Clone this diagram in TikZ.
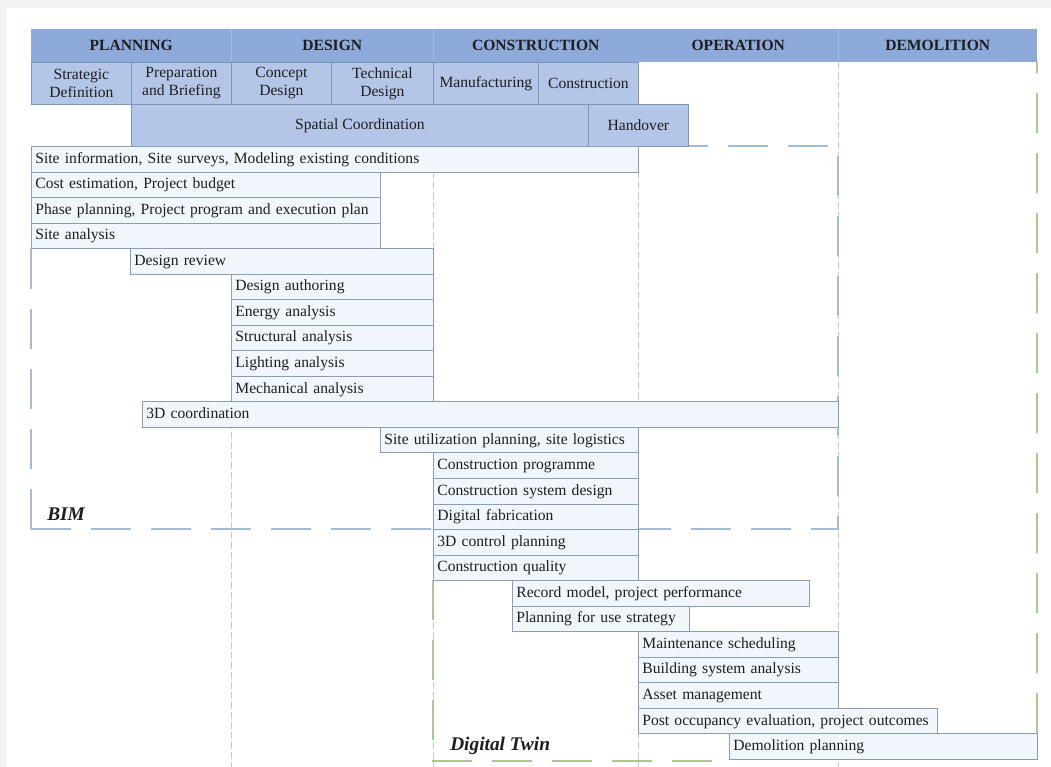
\documentclass[tikz,border=0pt]{standalone}
\usepackage{fontspec}
\setmainfont{Liberation Serif}
\usetikzlibrary{positioning}

\definecolor{pagegray}{RGB}{243,243,243}
\definecolor{headfill}{RGB}{142,170,219}
\definecolor{headsepc}{RGB}{165,187,226}
\definecolor{stagefill}{RGB}{180,198,231}
\definecolor{stageline}{RGB}{125,148,184}
\definecolor{taskfill}{RGB}{241,246,252}
\definecolor{taskline}{RGB}{138,158,184}
\definecolor{gridgray}{RGB}{200,200,200}
\definecolor{bimblue}{RGB}{166,188,210}
\definecolor{twingreen}{RGB}{168,201,146}
\definecolor{inkc}{RGB}{30,30,30}

\newcommand{\chartfont}{\fontsize{11.7}{13.5}\selectfont}
% one bar of the chart: name, left x, right x, row, text
\newcommand{\taskbar}[5]{%
  \pgfmathsetlengthmacro{\barwd}{(#3-#2)*0.75pt-6pt}%
  \node[taskbox, text width=\barwd] (#1) at (#2,{146+#4*25.54}) {#5};}

\begin{document}
\begin{tikzpicture}[x=0.75pt,y=-0.75pt,
  head/.style={fill=headfill, anchor=north west, minimum height=24.75pt, inner sep=0pt, text=inkc, font=\chartfont\bfseries},
  stagecell/.style={draw=stageline, line width=0.6pt, fill=stagefill, anchor=north west, minimum height=31.5pt, inner sep=0pt, align=center, text=inkc, font=\chartfont},
  taskbox/.style={draw=taskline, line width=0.6pt, fill=taskfill, anchor=north west, align=left, inner xsep=3pt, inner ysep=0pt, minimum height=19.155pt, text height=8.6pt, text depth=2.6pt, text=inkc, font=\chartfont},
  headsep/.style={draw=headsepc, line width=0.6pt},
  phaseline/.style={draw=gridgray, line width=0.6pt, dash pattern=on 5pt off 2.5pt},
  bimzone/.style={draw=bimblue, line width=1.3pt, dash pattern=on 30pt off 15pt},
  twinzone/.style={draw=twingreen, line width=1.3pt, dash pattern=on 30pt off 15pt},
  zonelabel/.style={anchor=base west, inner sep=0pt, text=inkc, font=\fontsize{14.5}{17}\selectfont\bfseries\itshape}]
  \useasboundingbox (0,0) rectangle (1051,767);
  \fill[pagegray] (0,0) rectangle (1051,767);
  \fill[white] (7,8) rectangle (1051,767);

  % phase boundaries
  \draw[phaseline] (231,62) -- (231,767);
  \draw[phaseline] (433,62) -- (433,767);
  \draw[phaseline] (638,62) -- (638,767);
  \draw[phaseline] (838,62) -- (838,767);

  % BIM and Digital Twin zones
  \draw[bimzone] (31,529) -- (31,248);
  \draw[bimzone] (31,529) -- (838,529) -- (838,146) -- (688,146);
  \draw[twinzone] (433,580) -- (433,761) -- (729,761);
  \draw[twinzone] (1037,733) -- (1037,62);

  % life cycle stages
  \node[head, minimum width=150pt] (plan) at (31,29) {PLANNING};
  \node[head, minimum width=151.5pt] (design) at (231,29) {DESIGN};
  \node[head, minimum width=153.75pt] (constr) at (433,29) {CONSTRUCTION};
  \node[head, minimum width=150pt] (oper) at (638,29) {OPERATION};
  \node[head, minimum width=149.25pt] (demol) at (838,29) {DEMOLITION};
  \draw[headsep] (plan.north east) -- (plan.south east);
  \draw[headsep] (design.north east) -- (design.south east);
  \draw[headsep] (oper.north east) -- (oper.south east);

  \node[stagecell, minimum width=75pt] (strat) at (31,62) {Strategic\\Definition};
  \node[stagecell, minimum width=75pt] (prep) at (131,62) {Preparation\\and Briefing};
  \node[stagecell, minimum width=75pt] (concept) at (231,62) {Concept\\Design};
  \node[stagecell, minimum width=76.5pt] (technical) at (331,62) {Technical\\Design};
  \node[stagecell, minimum width=78.75pt] (manuf) at (433,62) {Manufacturing};
  \node[stagecell, minimum width=75pt] (construct) at (538,62) {Construction};
  \node[stagecell, minimum width=342.75pt] (spatial) at (131,104) {Spatial Coordination};
  \node[stagecell, minimum width=75pt] (handover) at (588,104) {Handover};

  % BIM uses
  \taskbar{siteinfo}{31}{638}{0}{Site information, Site surveys, Modeling existing conditions}
  \taskbar{cost}{31}{380}{1}{Cost estimation, Project budget}
  \taskbar{phase}{31}{380}{2}{Phase planning, Project program and execution plan}
  \taskbar{siteana}{31}{380}{3}{Site analysis}
  \taskbar{review}{130}{433}{4}{Design review}
  \taskbar{authoring}{231}{433}{5}{Design authoring}
  \taskbar{energy}{231}{433}{6}{Energy analysis}
  \taskbar{struct}{231}{433}{7}{Structural analysis}
  \taskbar{lighting}{231}{433}{8}{Lighting analysis}
  \taskbar{mech}{231}{433}{9}{Mechanical analysis}
  \taskbar{coord}{142}{838}{10}{3D coordination}
  \taskbar{siteuse}{380}{638}{11}{Site utilization planning, site logistics}
  \taskbar{programme}{433}{638}{12}{Construction programme}
  \taskbar{sysdesign}{433}{638}{13}{Construction system design}
  \taskbar{fabrication}{433}{638}{14}{Digital fabrication}
  % Digital Twin uses
  \taskbar{control}{433}{638}{15}{3D control planning}
  \taskbar{quality}{433}{638}{16}{Construction quality}
  \taskbar{record}{512}{809}{17}{Record model, project performance}
  \taskbar{useplan}{512}{689}{18}{Planning for use strategy}
  \taskbar{maint}{638}{838}{19}{Maintenance scheduling}
  \taskbar{bsa}{638}{838}{20}{Building system analysis}
  \taskbar{asset}{638}{838}{21}{Asset management}
  \taskbar{poe}{638}{937}{22}{Post occupancy evaluation, project outcomes}
  \taskbar{demoplan}{729}{1037}{23}{Demolition planning}

  \node[zonelabel] (bim) at (47,520) {BIM};
  \node[zonelabel] (twin) at (450,750) {Digital Twin};
\end{tikzpicture}
\end{document}
